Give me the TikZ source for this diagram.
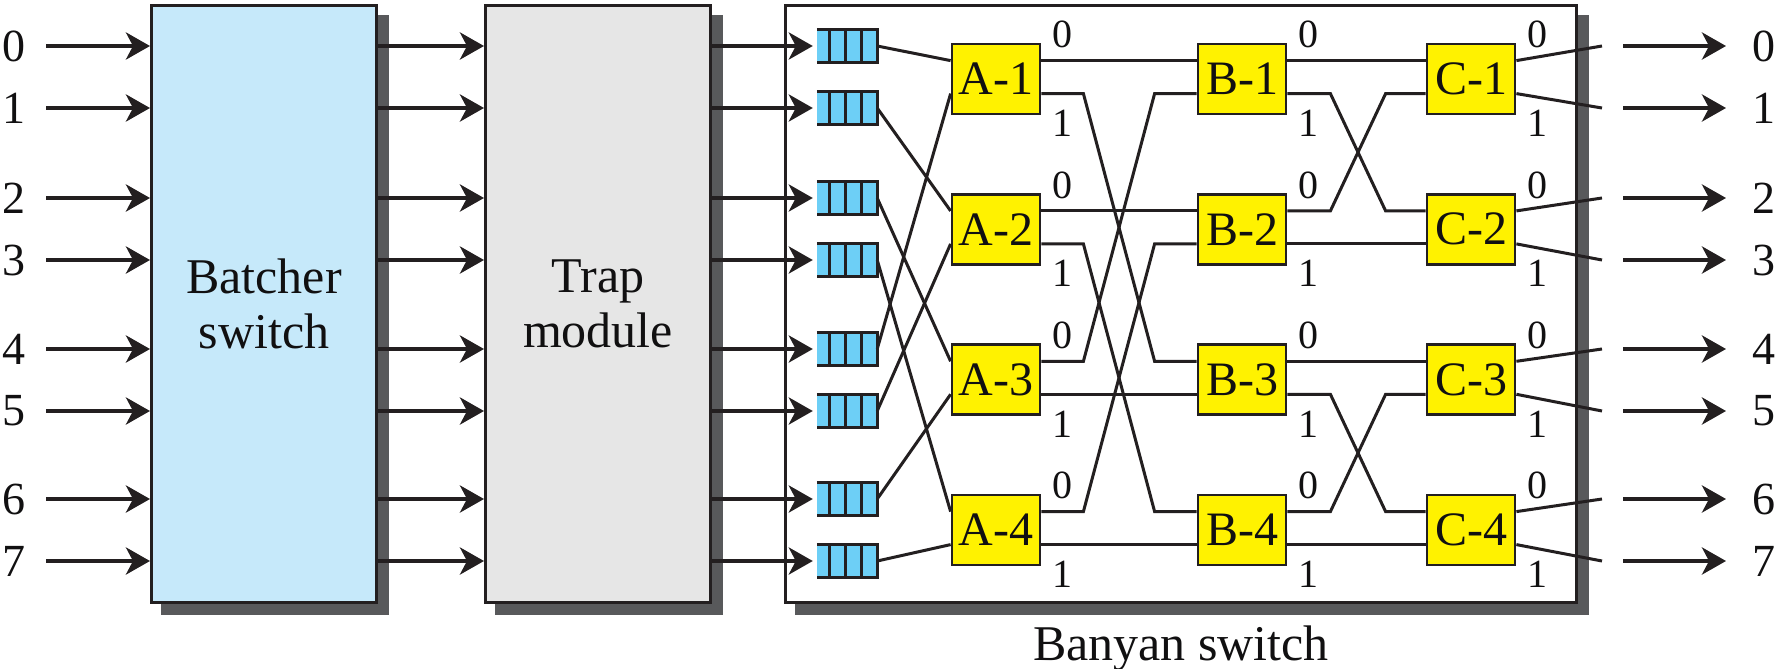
\documentclass[tikz,border=0pt]{standalone}
\usepackage{fontspec}
\setmainfont{Liberation Serif}
\usetikzlibrary{arrows.meta,calc}
\definecolor{ink}{HTML}{231F20}
\definecolor{txt}{HTML}{111011}
\definecolor{batblue}{HTML}{C6E9FA}
\definecolor{trapgray}{HTML}{E6E6E6}
\definecolor{shgray}{HTML}{58595B}
\definecolor{swyellow}{HTML}{FFF200}
\definecolor{qblue}{HTML}{6DCFF6}
\begin{document}
\begin{tikzpicture}[x=1pt,y=-1pt,
  bigbox/.style={draw=ink, line width=3pt, inner sep=0pt, text=txt,
    align=center, font=\fontsize{50}{55}\selectfont},
  shadowbox/.style={fill=shgray, draw=none, inner sep=0pt},
  sw/.style={draw=ink, fill=swyellow, line width=2.8pt, minimum width=88pt, text=txt,
    minimum height=70pt, inner sep=0pt, font=\fontsize{48}{50}\selectfont},
  wire/.style={draw=ink, line width=3pt},
  arr/.style={draw=ink, line width=4.2pt, -{Stealth[length=24pt,width=27pt,inset=7pt]}},
  qbox/.style={fill=qblue, minimum width=60pt, minimum height=32pt, inner sep=0pt},
  qline/.style={draw=ink, line width=2.8pt},
  rowlab/.style={font=\fontsize{46}{46}\selectfont, inner sep=0pt, text=txt},
  portlab/.style={font=\fontsize{40}{40}\selectfont, inner sep=0pt, text=txt},
]
\useasboundingbox (0,0) rectangle (1777,669);

% shadows
\node[shadowbox, minimum width=228pt, minimum height=600pt] (batsh) at (275,315) {};
\node[shadowbox, minimum width=228pt, minimum height=600pt] (trapsh) at (609,315) {};
\node[shadowbox, minimum width=794pt, minimum height=600pt] (bansh) at (1192,315) {};

% big blocks
\node[bigbox, fill=batblue, minimum width=225pt, minimum height=597pt] (bat) at (264,304) {Batcher\\switch};
\node[bigbox, fill=trapgray, minimum width=225pt, minimum height=597pt] (trap) at (598,304) {Trap\\module};
\node[bigbox, fill=white, minimum width=791pt, minimum height=597pt] (ban) at (1181,304) {};
\node[font=\fontsize{50}{50}\selectfont, anchor=base, inner sep=0pt, text=txt] (banlab) at (1181,660) {Banyan switch};

% rows
\foreach \r/\y in {0/46,1/108,2/198,3/260,4/349,5/411,6/499,7/561} {
  \node[rowlab] (li\r) at (14,\y) {\r};
  \coordinate (ls\r) at (46,\y);
  \node[qbox] (q\r) at (847,\y) {};
  \node[rowlab] (lo\r) at (1764,\y) {\r};
  \coordinate (os\r) at (1623,\y);
  \coordinate (oe\r) at (1726,\y);
  \coordinate (cw\r) at (1602,\y);
}

% arrows
\foreach \r in {0,...,7} {
  \draw[arr] (ls\r) -- (ls\r -| bat.west);
  \draw[arr] (bat.east |- ls\r) -- (trap.west |- ls\r);
  \draw[arr, shorten >=4pt] (trap.east |- ls\r) -- (q\r.west);
  \draw[arr] (os\r) -- (oe\r);
}

% queues
\foreach \r in {0,...,7} {
  \draw[qline] (q\r.north west) -- (q\r.north east) -- (q\r.south east) -- (q\r.south west);
  \foreach \d in {13,29,45}
    \draw[qline] ($(q\r.north west)+(\d,0)$) -- ($(q\r.south west)+(\d,0)$);
}

% switching elements
\foreach \i/\t in {1/43,2/193.3,3/343.7,4/494} {
  \node[sw] (A\i) at (996,\t+36) {A-\i};
  \node[sw] (B\i) at (1242,\t+36) {B-\i};
  \node[sw] (C\i) at (1471,\t+36) {C-\i};
}

% ports and labels
\foreach \s in {A,B,C} \foreach \i in {1,...,4} {
  \coordinate (\s\i i0) at ($(\s\i.north west)+(0,18)$);
  \coordinate (\s\i i1) at ($(\s\i.north west)+(0,51)$);
  \coordinate (\s\i o0) at ($(\s\i.north east)+(0,18)$);
  \coordinate (\s\i o1) at ($(\s\i.north east)+(0,51)$);
  \node[portlab] (\s\i l0) at ($(\s\i.north east)+(21,-8)$) {0};
  \node[portlab] (\s\i l1) at ($(\s\i.south east)+(21,8)$) {1};
}

% queue -> A stage
\foreach \i/\j in {0/A1i0,1/A2i0,2/A3i0,3/A4i0,4/A1i1,5/A2i1,6/A3i1,7/A4i1}
  \draw[wire] (q\i.east) -- (\j);

% straight links
\foreach \a/\b in {A1o0/B1i0,A2o0/B2i0,A3o1/B3i1,A4o1/B4i1,B1o0/C1i0,B2o1/C2i1,B3o0/C3i0,B4o1/C4i1}
  \draw[wire] (\a) -- (\b);

% bent links A -> B
\foreach \a/\b in {A1o1/B3i0,A2o1/B4i0,A3o0/B1i1,A4o0/B2i1}
  \draw[wire] (\a) -- ++(42,0) -- ([xshift=-42pt]\b) -- (\b);

% bent links B -> C
\foreach \a/\b in {B1o1/C2i0,B2o0/C1i1,B3o1/C4i0,B4o0/C3i1}
  \draw[wire] (\a) -- ++(43,0) -- ([xshift=-40pt]\b) -- (\b);

% outputs
\foreach \i/\r/\s in {1/0/1,2/2/3,3/4/5,4/6/7} {
  \draw[wire] (C\i o0) -- (cw\r);
  \draw[wire] (C\i o1) -- (cw\s);
}
\end{tikzpicture}
\end{document}
